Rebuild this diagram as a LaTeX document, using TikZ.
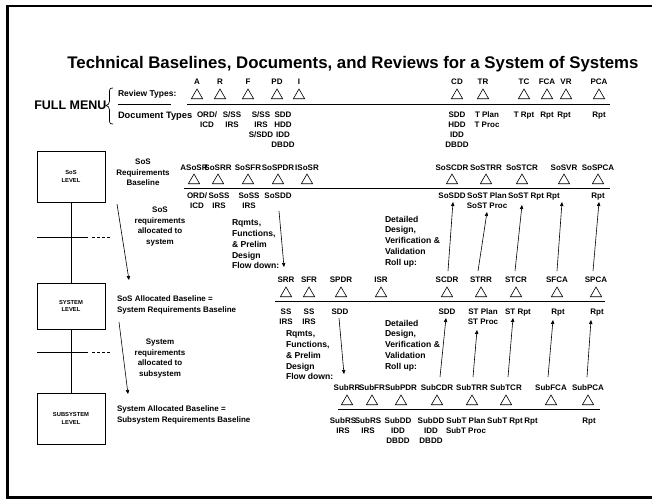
\documentclass[tikz,border=0pt]{standalone}
\usepackage{fontspec}
\setmainfont{Liberation Sans}
\usetikzlibrary{shapes.geometric,arrows.meta}

\begin{document}
\begin{tikzpicture}[x=1pt,y=-1pt,
  every node/.style={inner sep=0pt,outer sep=0pt},
  lbl/.style={font=\fontsize{8}{9}\selectfont\bfseries,anchor=base},
  doc/.style={font=\fontsize{8}{10}\selectfont\bfseries,align=center,anchor=north},
  side/.style={font=\fontsize{8}{10.6}\selectfont\bfseries,anchor=north},
  note/.style={font=\fontsize{8.6}{10.7}\selectfont\bfseries,align=left,anchor=north west},
  tri/.style={regular polygon,regular polygon sides=3,draw,minimum size=13pt,line width=0.6pt},
  rule/.style={line width=0.9pt},
  arr/.style={line width=0.6pt,-{Triangle[length=4pt,width=3.4pt]}},
  lvl/.style={draw,line width=0.8pt,minimum width=68pt,align=center,
              font=\fontsize{5.8}{7.2}\selectfont\bfseries}
]
\useasboundingbox (0,0) rectangle (652,499);
% outer frame
\draw[line width=2.5pt] (7.5,6) rectangle (700,497.5);

% title
\node[font=\fontsize{16.8}{20}\selectfont\bfseries] (title) at (353,64)
  {Technical Baselines, Documents, and Reviews for a System of Systems};

% ---------------- full menu ----------------
\node[font=\fontsize{12.5}{14}\selectfont\bfseries,anchor=east] (menu) at (106.5,105) {FULL MENU};
\draw[line width=0.7pt] (113,88) .. controls (109,88) and (109.5,90) .. (109.5,94)
  -- (109.5,101) .. controls (109.5,104) and (108,105) .. (106,105.5)
  .. controls (108,106) and (109.5,107) .. (109.5,110) -- (109.5,118)
  .. controls (109.5,122) and (109,124) .. (113,124);
\node[font=\fontsize{8.5}{10}\selectfont\bfseries,anchor=base west] (revtypes) at (118,96) {Review Types:};
\node[font=\fontsize{9.3}{10}\selectfont\bfseries,anchor=base west] (doctypes) at (118,118) {Document Types};
\coordinate (fs1) at (118,104); \coordinate (fs2) at (171,104);
\coordinate (fl1) at (187,104); \coordinate (fl2) at (610,104);
\draw[rule] (fs1) -- (fs2);
\draw[rule] (fl1) -- (fl2);
\foreach \n/\x in {A/197,R/220,F/248,PD/277,I/299,CD/457,TR/483,TC/524,FCA/547,VR/566,PCA/599}{
  \node[lbl] (f\n) at (\x,84.7) {\n};
  \node[tri] (ft\n) at (\x,95.5) {};
}
\node[doc] (fdA)  at (207,112) {ORD/\\ICD};
\node[doc] (fdR)  at (232,112) {S/SS\\IRS};
\node[doc] (fdF)  at (261,112) {S/SS\\IRS\\S/SDD};
\node[doc] (fdPD) at (283,112) {SDD\\HDD\\IDD\\DBDD};
\node[doc] (fdCD) at (457,112) {SDD\\HDD\\IDD\\DBDD};
\node[doc] (fdTR) at (487,112) {T Plan\\T Proc};
\node[doc] (fdTC) at (524,112) {T Rpt};
\node[doc] (fdFCA) at (547,112) {Rpt};
\node[doc] (fdVR) at (564,112) {Rpt};
\node[doc] (fdPCA) at (599,112) {Rpt};

% ---------------- level boxes and spine ----------------
\node[lvl,minimum height=51pt] (sos) at (71,176.5) {SoS\\LEVEL};
\node[lvl,minimum height=46pt] (sys) at (71,306) {SYSTEM\\LEVEL};
\node[lvl,minimum height=51pt] (sub) at (71,418.5) {SUBSYSTEM\\LEVEL};
\draw[line width=0.8pt] (sos.south) -- (sys.north);
\draw[line width=0.8pt] (sys.south) -- (sub.north);
\coordinate (k1a) at (37,237); \coordinate (k1b) at (88,237);
\coordinate (k1c) at (92,237); \coordinate (k1d) at (110,237);
\coordinate (k2a) at (37,352); \coordinate (k2b) at (88,352);
\coordinate (k2c) at (92,352); \coordinate (k2d) at (110,352);
\draw[line width=0.8pt] (k1a) -- (k1b);
\draw[line width=0.8pt,dash pattern=on 2.5pt off 2.5pt] (k1c) -- (k1d);
\draw[line width=0.8pt] (k2a) -- (k2b);
\draw[line width=0.8pt,dash pattern=on 2.5pt off 2.5pt] (k2c) -- (k2d);

% ---------------- SoS level ----------------
\node[side,align=center] (sosbl) at (143,159) {SoS\\Requirements\\Baseline};
\foreach \n/\x in {ASoSR/194,SoSRR/218,SoSFR/248,SoSPDR/278,ISoSR/307,SoSCDR/452,SoSTRR/486,SoSTCR/522,SoSVR/564,SoSPCA/598}{
  \node[lbl] (s\n) at (\x,170.7) {\n};
  \node[tri] (st\n) at (\x,180.5) {};
}
\coordinate (sl1) at (184,188); \coordinate (sl2) at (610,188);
\draw[rule] (sl1) -- (sl2);
\node[doc] (sdA)   at (197,193) {ORD/\\ICD};
\node[doc] (sdR)   at (219,193) {SoSS\\IRS};
\node[doc] (sdF)   at (249,193) {SoSS\\IRS};
\node[doc] (sdPD)  at (278,193) {SoSDD};
\node[doc] (sdCD)  at (452,193) {SoSDD};
\node[doc] (sdTR)  at (487,193) {SoST Plan\\SoST Proc};
\node[doc] (sdTC)  at (526,193) {SoST Rpt};
\node[doc] (sdVR)  at (553,193) {Rpt};
\node[doc] (sdPCA) at (598,193) {Rpt};

\node[side,align=center] (alloc1) at (160,207) {SoS\\requirements\\allocated to\\system};
\coordinate (a1a) at (117,204); \coordinate (a1b) at (129,280);
\draw[arr] (a1a) -- (a1b);

\node[note] (flow1) at (232,220) {Rqmts,\\Functions,\\\& Prelim\\Design\\Flow down:};
\coordinate (fd1a) at (279,211); \coordinate (fd1b) at (284,267);
\draw[arr] (fd1a) -- (fd1b);

\node[note] (roll1) at (385,216) {Detailed\\Design,\\Verification \&\\Validation\\Roll up:};
\coordinate (r1a) at (448,271); \coordinate (r1b) at (453,202);
\coordinate (r2a) at (478,271); \coordinate (r2b) at (487,212);
\coordinate (r3a) at (515,271); \coordinate (r3b) at (522,205);
\coordinate (r4a) at (557,271); \coordinate (r4b) at (562,202);
\coordinate (r5a) at (593,271); \coordinate (r5b) at (599,202);
\foreach \i in {1,...,5}{\draw[arr] (r\i a) -- (r\i b);}

% ---------------- system level ----------------
\node[side,align=left,anchor=north west] (sysbl) at (117,296) {SoS Allocated Baseline =\\System Requirements Baseline};
\foreach \n/\x in {SRR/286,SFR/309,SPDR/341,ISR/381,SCDR/447,STRR/481,STCR/516,SFCA/557,SPCA/596}{
  \node[lbl] (y\n) at (\x,282.7) {\n};
  \node[tri] (yt\n) at (\x,293.5) {};
}
\coordinate (yl1) at (275,301); \coordinate (yl2) at (605,301);
\draw[rule] (yl1) -- (yl2);
\node[doc] (ydRR)  at (286,309) {SS\\IRS};
\node[doc] (ydFR)  at (309,309) {SS\\IRS};
\node[doc] (ydPDR) at (340,309) {SDD};
\node[doc] (ydCDR) at (447,309) {SDD};
\node[doc] (ydTRR) at (483,309) {ST Plan\\ST Proc};
\node[doc] (ydTCR) at (518,309) {ST Rpt};
\node[doc] (ydFCA) at (558,309) {Rpt};
\node[doc] (ydPCA) at (597,309) {Rpt};

\node[side,align=center] (alloc2) at (160,339) {System\\requirements\\allocated to\\subsystem};
\coordinate (a2a) at (119,322); \coordinate (a2b) at (128,394);
\draw[arr] (a2a) -- (a2b);

\node[note] (flow2) at (286,331) {Rqmts,\\Functions,\\\& Prelim\\Design\\Flow down:};
\coordinate (fd2a) at (339,318); \coordinate (fd2b) at (344,374);
\draw[arr] (fd2a) -- (fd2b);

\node[note] (roll2) at (385,320) {Detailed\\Design,\\Verification \&\\Validation\\Roll up:};
\coordinate (q1a) at (440,377); \coordinate (q1b) at (446,318);
\coordinate (q2a) at (473,377); \coordinate (q2b) at (477,330);
\coordinate (q3a) at (508,377); \coordinate (q3b) at (513,318);
\coordinate (q4a) at (548,377); \coordinate (q4b) at (553,320);
\coordinate (q5a) at (587,377); \coordinate (q5b) at (591,320);
\foreach \i in {1,...,5}{\draw[arr] (q\i a) -- (q\i b);}

% ---------------- subsystem level ----------------
\node[side,align=left,anchor=north west] (subbl) at (117,406) {System Allocated Baseline =\\Subsystem Requirements Baseline};
\foreach \n/\x in {SubRR/347,SubFR/372,SubPDR/401,SubCDR/437,SubTRR/472,SubTCR/506,SubFCA/551,SubPCA/588}{
  \node[lbl] (b\n) at (\x,390.7) {\n};
  \node[tri] (bt\n) at (\x,401.5) {};
}
\coordinate (bl1) at (338,409); \coordinate (bl2) at (600,409);
\draw[rule] (bl1) -- (bl2);
\node[doc] (bdRR)  at (343,418) {SubRS\\IRS};
\node[doc] (bdFR)  at (368,418) {SubRS\\IRS};
\node[doc] (bdPDR) at (398,418) {SubDD\\IDD\\DBDD};
\node[doc] (bdCDR) at (431,418) {SubDD\\IDD\\DBDD};
\node[doc] (bdTRR) at (466,418) {SubT Plan\\SubT Proc};
\node[doc] (bdTCR) at (505,418) {SubT Rpt};
\node[doc] (bdFCA) at (531,418) {Rpt};
\node[doc] (bdPCA) at (589,418) {Rpt};
\end{tikzpicture}
\end{document}
